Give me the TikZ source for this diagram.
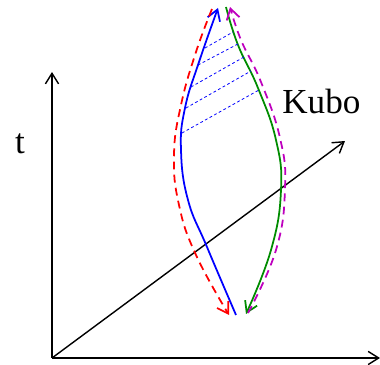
\documentclass[tikz,border=0pt]{standalone}
\usepackage{fontspec}
\setmainfont{Liberation Serif}
\usetikzlibrary{arrows.meta}
\definecolor{cblue}{RGB}{0,0,255}
\definecolor{cred}{RGB}{255,0,0}
\definecolor{cgreen}{RGB}{0,140,0}
\definecolor{cmag}{RGB}{190,0,190}
\tikzset{
  tip/.style={-{Straight Barb[length=6pt,width=7.5pt]}},
  axis/.style={tip,line width=0.8pt,black},
  contour/.style={tip,line width=1pt},
  dashc/.style={contour,dash pattern=on 4.5pt off 3pt},
  rung/.style={cblue,line width=0.45pt,dash pattern=on 1.6pt off 1.4pt},
  lbl/.style={font=\fontsize{20}{24}\selectfont,inner sep=0pt},
  sm/.style={smooth,tension=0.75}
}
\begin{document}
\begin{tikzpicture}[x=0.02cm,y=-0.02cm]
\useasboundingbox (0,0) rectangle (380,365);
\coordinate (O) at (52,358);
\coordinate (T) at (52,72);
\coordinate (X) at (380,358);
\coordinate (K) at (345,141);
\draw[axis] (O) -- (T);
\draw[axis] (O) -- (X);
\draw[axis] (O) -- (K);
\node[lbl] (tlab) at (20,144) {t};
\node[lbl,anchor=base west] (kubo) at (282,113) {Kubo};
% blue: upward
\draw[contour,cblue] plot[sm] coordinates {(236,315) (207,247) (188,200) (181,150) (185,108) (199,62) (218,8)};
% red dashed: downward
\draw[dashc,cred] plot[sm] coordinates {(212,9) (196,52) (181,105) (174,155) (179,205) (196,255) (229,315)};
% green: downward
\draw[contour,cgreen] plot[sm] coordinates {(226,7) (238,45) (258,88) (276,140) (281,190) (271,250) (246,314)};
% magenta dashed: upward
\draw[dashc,cmag] plot[sm] coordinates {(248,313) (276,250) (285,188) (280,138) (261,82) (241,40) (230,7)};
% rungs
\coordinate (b1) at (205,48);  \coordinate (g1) at (233,32);
\coordinate (b2) at (198,65);  \coordinate (g2) at (238,44);
\coordinate (b3) at (191,87);  \coordinate (g3) at (244,57);
\coordinate (b4) at (186,108); \coordinate (g4) at (251,71);
\coordinate (b5) at (182,133); \coordinate (g5) at (259,90);
\foreach \i in {1,...,5} \draw[rung] (b\i) -- (g\i);
\end{tikzpicture}
\end{document}
